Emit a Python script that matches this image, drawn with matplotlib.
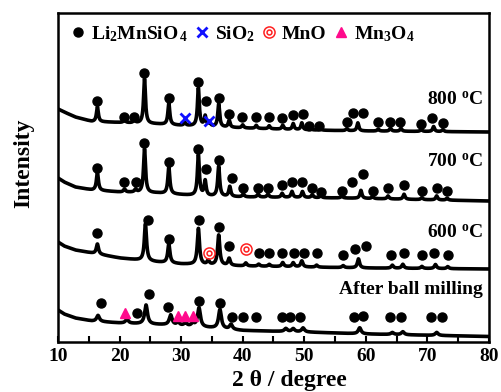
import numpy as np
import matplotlib
matplotlib.use('Agg')
from matplotlib import pyplot as plt
from matplotlib.lines import Line2D
from matplotlib.legend_handler import HandlerTuple

plt.rcParams['font.family'] = ['Liberation Serif', 'DejaVu Serif']
plt.rcParams['font.weight'] = 'bold'
plt.rcParams['mathtext.fontset'] = 'custom'
plt.rcParams['mathtext.rm'] = 'Liberation Serif:bold'
plt.rcParams['mathtext.bf'] = 'Liberation Serif:bold'
plt.rcParams['mathtext.it'] = 'Liberation Serif:bold'

# ---- patterns: baseline knots (2theta, intensity) and peaks (2theta, height)
base_800_x = [10, 11, 12.8, 15.5, 20, 26, 30, 40, 50, 60, 80]
base_800_y = [233, 230, 225, 220.5, 219.5, 218, 216.5, 214, 212, 211, 210]
pk_800_pos = [16.4, 20.8, 22.4, 24.05, 28.0, 30.6, 32.8, 33.9, 34.6, 36.1, 37.8, 40.0, 42.2, 44.3,
              46.5, 48.2, 49.6, 51.0, 52.6, 56.9, 58.7, 62.0, 64.0, 65.7, 69.0, 71.0, 72.5]
pk_800_h = [15, 3, 3, 45, 22, 3, 38, 10, 4, 23, 7, 3, 3, 3,
            4, 6, 7, 2, 2, 2, 8, 2, 3, 3, 2, 5, 2]

base_700_x = [10, 11, 12.8, 15.5, 20, 26, 33, 40, 56, 80]
base_700_y = [164, 160, 155, 152, 150, 149, 146, 145, 144, 141]
pk_700_pos = [16.4, 20.8, 22.6, 24.05, 28.0, 32.8, 33.9, 36.1, 37.9, 40.1, 42.5, 44.1,
              46.4, 48.0, 49.7, 51.3, 52.7, 56.1, 59.2, 61.1, 63.6, 66.2, 69.1, 71.5, 73.2]
pk_700_h = [18, 3, 3, 44, 27, 41, 15, 30, 10, 3, 3, 3,
            4, 6, 6, 3, 2, 2, 8, 2, 3, 5, 2, 4, 2]

base_600_x = [10, 11, 12.8, 15.5, 20, 26, 30, 40, 60, 80]
base_600_y = [100, 96, 92, 89, 84, 80, 78, 76, 74, 73]
pk_600_pos = [16.4, 24.2, 28.0, 32.8, 34.4, 36.1, 37.8, 40.5, 42.6, 44.3, 46.5, 48.2,
              49.6, 52.0, 56.3, 58.8, 64.3, 66.0, 69.1, 71.3, 73.3]
pk_600_h = [10, 37, 19, 36, 4, 30, 7, 3, 2, 2, 4, 4,
            6, 2, 2, 9, 3, 4, 2, 4, 2]

base_bm_x = [10, 11, 12.8, 15.5, 20, 28, 35, 40, 50, 60, 80]
base_bm_y = [32, 28, 24, 21, 19, 17, 14, 11.5, 10, 8, 5.5]
pk_bm_pos = [16.5, 21.2, 24.3, 28.3, 29.5, 30.7, 31.9, 32.9, 36.3, 38.1, 47.0, 48.2,
             49.8, 59.0, 64.3, 66.0, 71.5]
pk_bm_h = [6, 4, 19, 10, 3, 3, 3, 19, 19, 5, 3, 3,
           4, 6, 2, 3, 3]

# ---- phase markers (2theta, intensity)
li_800_x = [16.4, 20.8, 22.4, 24.0, 28.0, 32.8, 34.0, 36.1, 37.8, 39.9, 42.2, 44.3, 46.4, 48.2,
            49.8, 50.8, 52.4, 56.9, 57.9, 59.6, 62.0, 63.9, 65.5, 69.0, 70.7, 72.5]
li_800_y = [241, 225, 225, 269, 244, 260, 241, 244, 228, 225, 225, 225, 224, 227,
            228, 216, 216, 220, 229, 229, 220, 220, 220, 218, 224, 219]
sio2_x = [30.7, 34.5]
sio2_y = [224, 221]

li_700_x = [16.4, 20.8, 22.6, 24.0, 28.0, 32.8, 34.0, 36.1, 38.3, 40.1, 42.5, 44.1, 46.4,
            48.0, 49.7, 51.3, 52.7, 56.1, 57.8, 59.6, 61.1, 63.6, 66.2, 69.1, 71.5, 73.2]
li_700_y = [174, 160, 160, 199, 180, 193, 173, 182, 164, 154, 154, 154, 157,
            160, 160, 154, 150, 151, 160, 168, 151, 154, 157, 151, 154, 151]

li_600_x = [16.4, 24.6, 28.0, 32.9, 36.1, 37.8, 42.6, 44.3, 46.4, 48.4, 50.0, 52.0, 56.3,
            58.2, 60.0, 64.1, 66.2, 69.1, 71.1, 73.3]
li_600_y = [109, 122, 103, 122, 115, 96, 89, 89, 89, 89, 89, 89, 87,
            93, 96, 87, 89, 87, 89, 87]
mno_x = [34.5, 40.5]
mno_y = [89, 93]

li_bm_x = [17.0, 22.9, 24.7, 27.9, 32.9, 36.3, 38.3, 40.0, 42.2, 46.4, 47.7, 49.3, 58.0,
           59.6, 63.9, 65.7, 70.6, 72.3]
li_bm_y = [39, 29, 48, 35, 41, 39, 25, 25, 25, 25, 25, 25, 25,
           26, 25, 25, 25, 25]
mn3o4_x = [20.9, 29.5, 30.7, 31.9]
mn3o4_y = [29, 26, 26, 26]

labels = ['800 $^\\mathrm{o}$C', '700 $^\\mathrm{o}$C', '600 $^\\mathrm{o}$C', 'After ball milling']
label_y = [242, 180, 109, 53]


def pattern(tt, bx, by, pos, h, w):
    y = np.interp(tt, bx, by)
    for p, a in zip(pos, h):
        y = y + a / (1 + ((tt - p) / (w / 2)) ** 2)
    return y


fig = plt.figure(figsize=(5.02, 3.92), dpi=100)
ax = fig.add_axes([58 / 502, 50 / 392, 431 / 502, 329 / 392])

tt = np.linspace(10, 80, 4000)
traces = [(base_800_x, base_800_y, pk_800_pos, pk_800_h, 0.36),
          (base_700_x, base_700_y, pk_700_pos, pk_700_h, 0.38),
          (base_600_x, base_600_y, pk_600_pos, pk_600_h, 0.42),
          (base_bm_x, base_bm_y, pk_bm_pos, pk_bm_h, 0.55)]
for bx, by, pos, h, w in traces:
    ax.plot(tt, pattern(tt, bx, by, pos, h, w), color='black', lw=2.6, solid_joinstyle='round')

dot = dict(ls='none', marker='o', ms=6.5, color='black')
for xs, ys in [(li_800_x, li_800_y), (li_700_x, li_700_y), (li_600_x, li_600_y), (li_bm_x, li_bm_y)]:
    ax.plot(xs, ys, **dot)
ax.plot(sio2_x, sio2_y, ls='none', marker='x', ms=7, mew=2, color='#1010ff')
ax.plot(mno_x, mno_y, ls='none', marker='o', ms=8, mfc='none', mec='#ff2020', mew=1.1)
ax.plot(mno_x, mno_y, ls='none', marker='o', ms=3.5, mfc='none', mec='#ff2020', mew=1.1)
ax.plot(mn3o4_x, mn3o4_y, ls='none', marker='^', ms=7.5, color='#ff0a8c')

for lab, yy in zip(labels, label_y):
    ax.text(79.0, yy, lab, ha='right', va='center', fontsize=14, fontweight='bold')

# legend
h_li = Line2D([], [], **dot)
h_si = Line2D([], [], ls='none', marker='x', ms=7, mew=2, color='#1010ff')
h_mo1 = Line2D([], [], ls='none', marker='o', ms=8, mfc='none', mec='#ff2020', mew=1.1)
h_mo2 = Line2D([], [], ls='none', marker='o', ms=3.5, mfc='none', mec='#ff2020', mew=1.1)
h_mn = Line2D([], [], ls='none', marker='^', ms=7.5, color='#ff0a8c')
ax.legend([h_li, h_si, (h_mo1, h_mo2), h_mn],
          ['Li$_2$MnSiO$_{\\,4}$', 'SiO$_2$', 'MnO', 'Mn$_3$O$_4$'],
          handler_map={tuple: HandlerTuple(ndivide=1, pad=0)},
          loc='upper left', bbox_to_anchor=(-0.012, 1.02), ncol=4, frameon=False,
          handlelength=0.8, handletextpad=0.25, columnspacing=0.35,
          prop={'size': 14, 'weight': 'bold'})

ax.set_xlim(10, 80)
ax.set_ylim(0, 329)
ax.set_xticks(np.arange(10, 81, 10))
ax.set_xticks(np.arange(15, 80, 10), minor=True)
ax.set_yticks([])
ax.tick_params(axis='x', which='both', direction='in', length=4, width=1.5, labelsize=14, pad=4)
for s in ax.spines.values():
    s.set_linewidth(1.8)
ax.set_xlabel('2 θ / degree', fontsize=17, fontweight='bold')
ax.xaxis.set_label_coords(0.536, -0.085)
ax.set_ylabel('Intensity', fontsize=17, fontweight='bold')
ax.yaxis.set_label_coords(-0.054, 0.544)

fig.savefig('out.png', dpi=100)
